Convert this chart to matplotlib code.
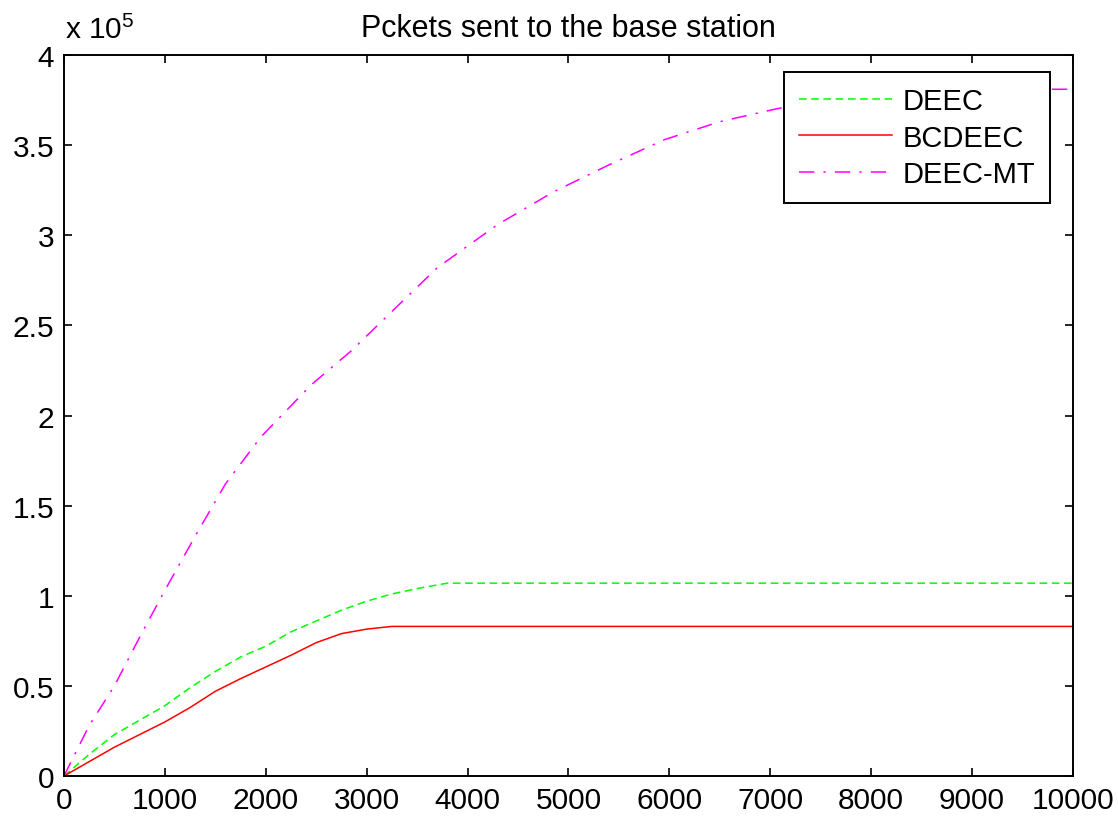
import numpy as np
import matplotlib
matplotlib.use("Agg")
import matplotlib.pyplot as plt
from matplotlib.ticker import FuncFormatter

plt.rcParams['font.family'] = ['Liberation Sans', 'DejaVu Sans']
plt.rcParams['mathtext.fontset'] = 'custom'
plt.rcParams['mathtext.rm'] = 'Liberation Sans'

# rounds vs. cumulative packets received by the BS
deec_x = [0, 250, 500, 750, 1000, 1250, 1500, 1750, 2000, 2250, 2500, 2750, 3000, 3250, 3500, 3800, 10000]
deec_y = [0, 12000, 23000, 31000, 39000, 49000, 58000, 66000, 72000, 80000, 86000, 92000, 97000, 101000, 104000, 107000, 107000]

bcdeec_x = [0, 250, 500, 750, 1000, 1250, 1500, 1750, 2000, 2250, 2500, 2750, 3000, 3250, 10000]
bcdeec_y = [0, 8000, 16000, 23000, 30000, 38000, 47000, 54000, 60500, 67000, 74000, 79000, 81500, 83000, 83000]

mt_x = [0, 250, 500, 750, 1000, 1300, 1600, 1950, 2450, 2850, 3200, 3700, 4300, 4850, 5400,
        5950, 6500, 7050, 7600, 8200, 10000]
mt_y = [0, 28000, 50000, 77000, 103000, 133000, 162000, 188000, 217000, 236000, 255000, 282000,
        306000, 324000, 339000, 353000, 363000, 370000, 376000, 381000, 381000]

fig = plt.figure(figsize=(11.18, 8.2), dpi=100)
ax = fig.add_axes([0.0572, 0.0524, 0.9025, 0.8793])

ax.plot(deec_x, deec_y, color=(0, 1, 0), lw=1.1, dashes=(5, 3), label='DEEC')
ax.plot(bcdeec_x, bcdeec_y, color=(1, 0, 0), lw=1.1, label='BCDEEC')
ax.plot(mt_x, mt_y, color=(1, 0, 1), lw=1.1, dashes=(10, 6, 1.5, 6), label='DEEC-MT')

ax.set_xlim(0, 10000)
ax.set_ylim(0, 4e5)
ax.set_xticks(np.arange(0, 10001, 1000))
ax.set_yticks(np.arange(0, 4.01e5, 0.5e5))
ax.yaxis.set_major_formatter(FuncFormatter(lambda v, p: '%g' % (v / 1e5)))

ax.tick_params(direction='in', length=6, width=1.2, labelsize=21.5, top=True, right=True, pad=7)
for s in ax.spines.values():
    s.set_linewidth(1.4)

ax.set_title('Pckets sent to the base station', fontsize=22, pad=14)
fig.text(0.058, 0.945, r'x 10$^5$', fontsize=21.5, ha='left', va='bottom')

leg = ax.legend(loc='upper right', bbox_to_anchor=(0.977, 0.976), fontsize=21,
                handlelength=3.2, handletextpad=0.35, labelspacing=0.3,
                fancybox=False, framealpha=1, borderpad=0.5, borderaxespad=0)
leg.get_frame().set_edgecolor('black')
leg.get_frame().set_linewidth(1.4)

fig.savefig('out.png', dpi=100)
